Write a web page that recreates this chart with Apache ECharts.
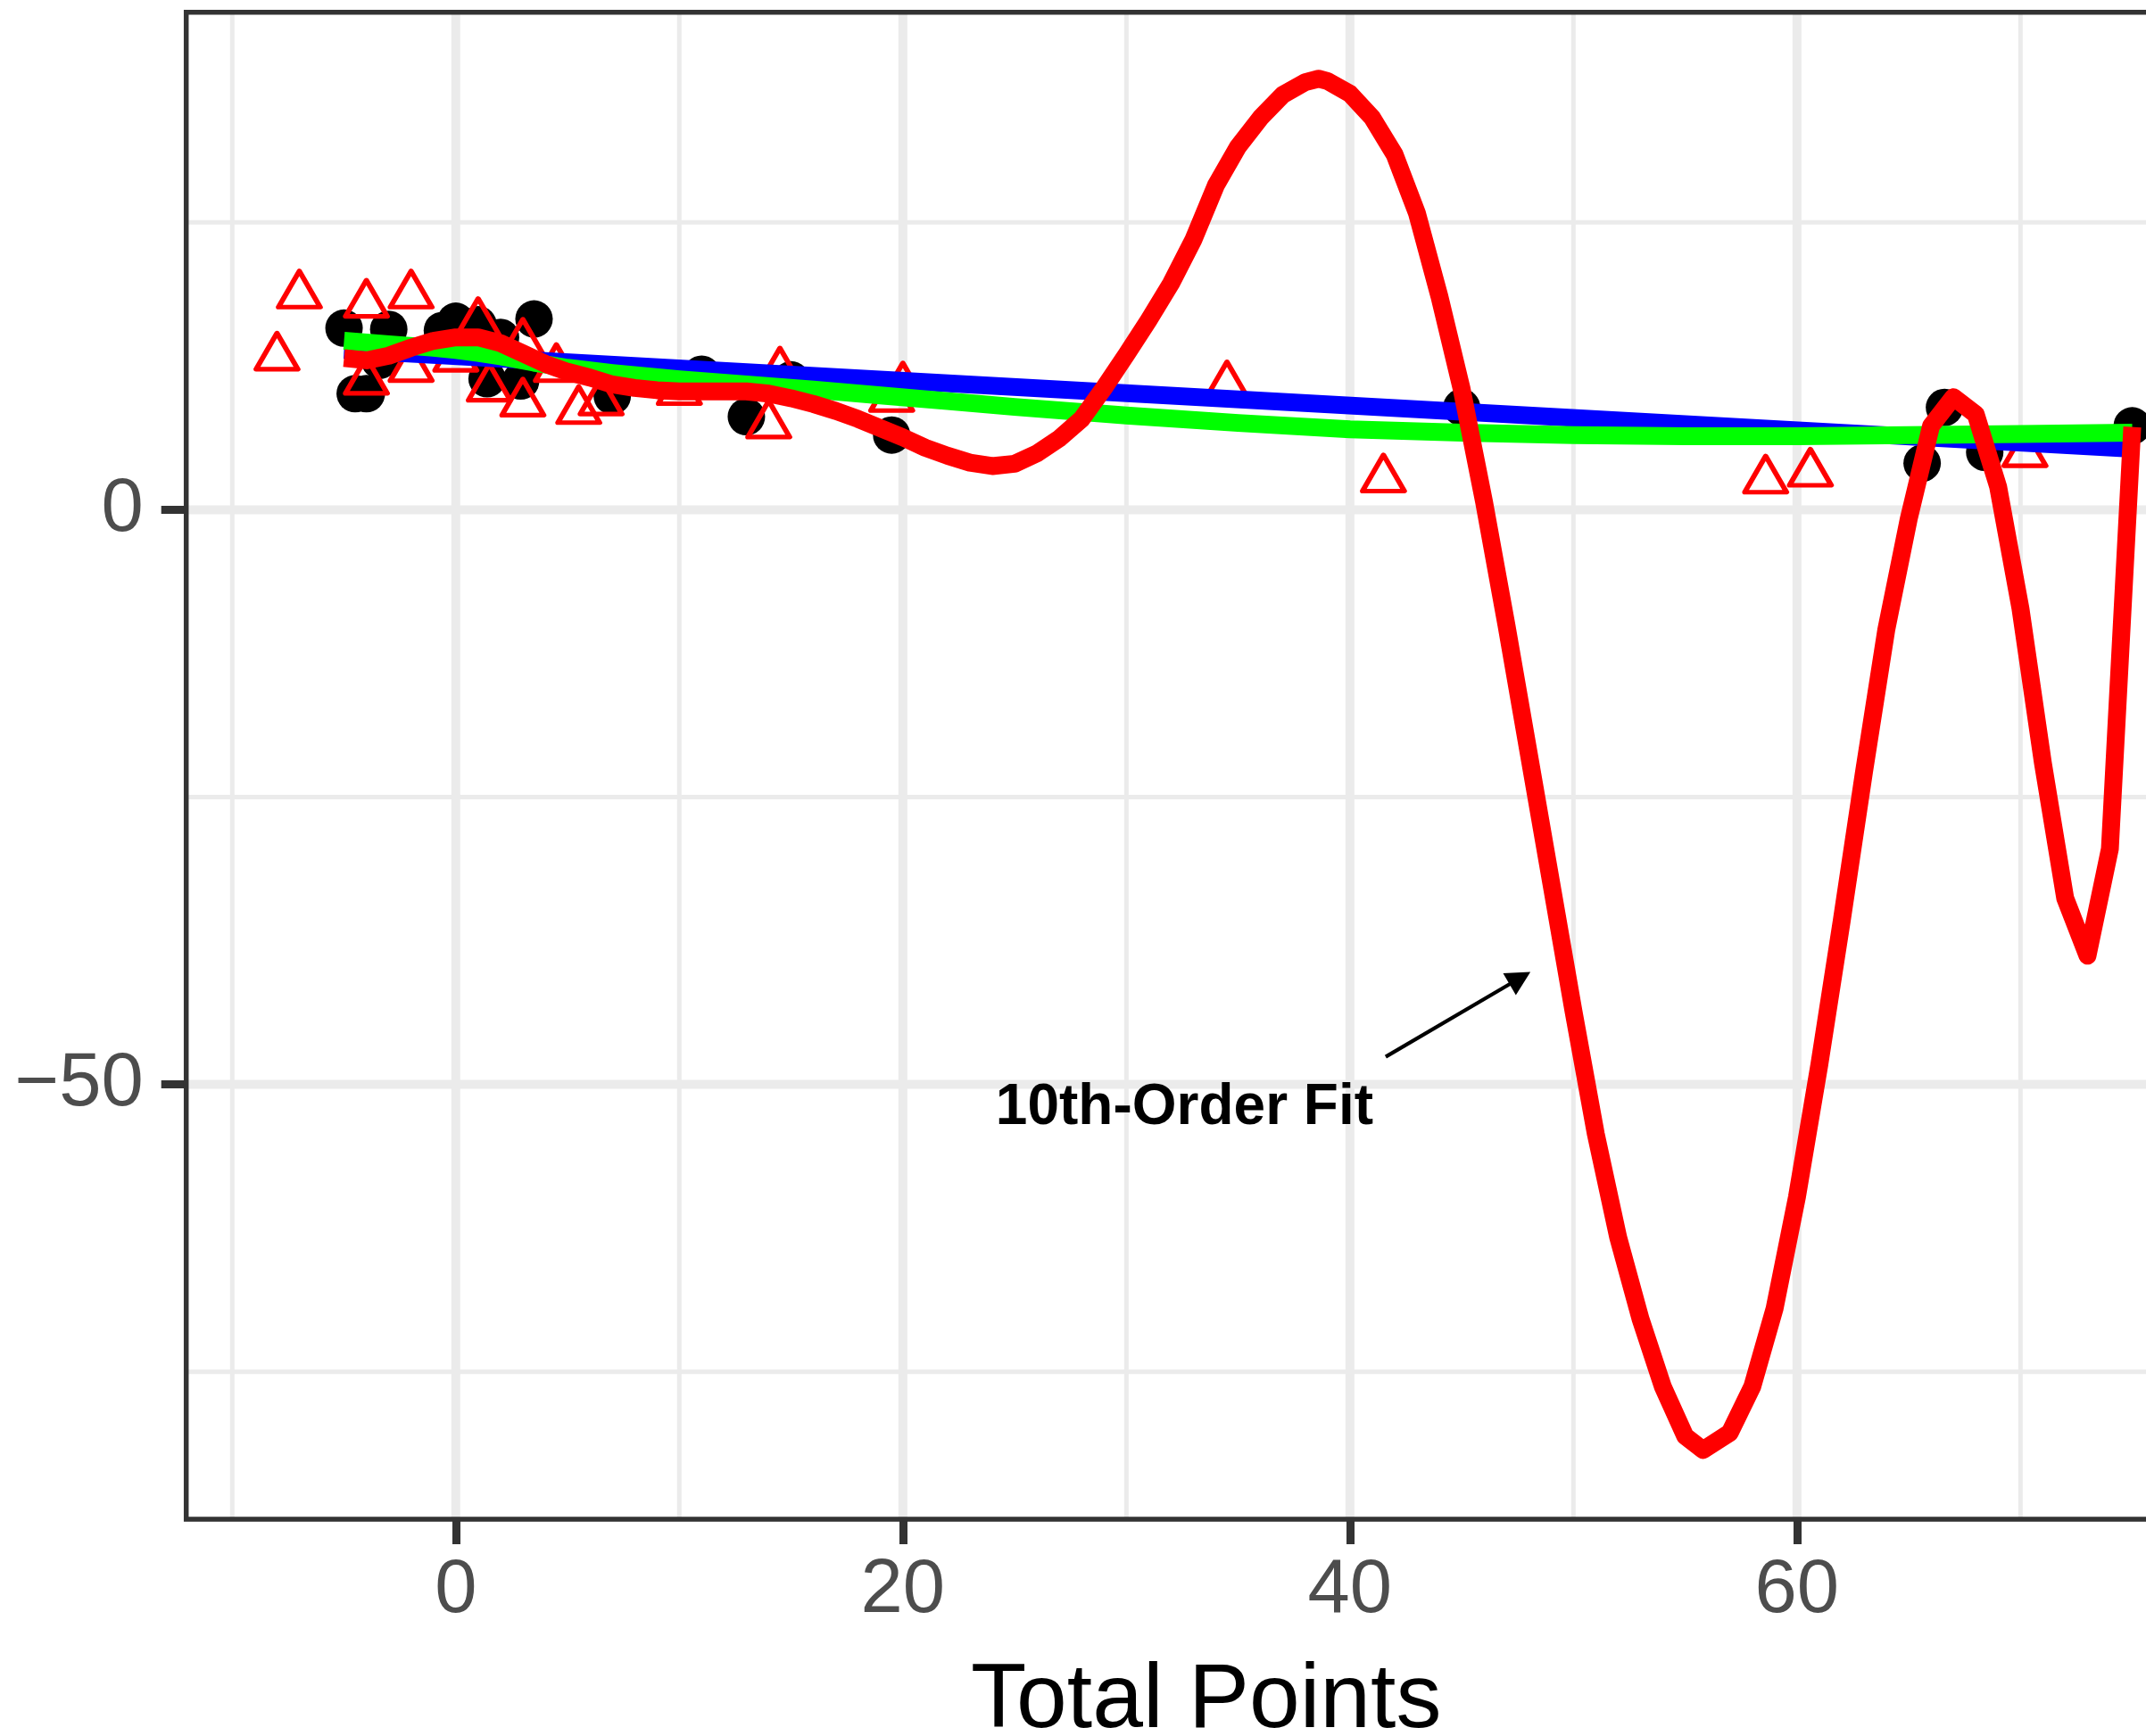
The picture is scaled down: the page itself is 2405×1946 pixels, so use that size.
<!DOCTYPE html>
<html>
<head>
<meta charset="utf-8">
<title>Total Points fits</title>
<script src="https://cdn.jsdelivr.net/npm/echarts@6/dist/echarts.min.js"></script>
<style>
  html, body { margin: 0; padding: 0; background: #ffffff; }
  #chart { width: 2405px; height: 1946px; }
</style>
</head>
<body>
<div id="chart"></div>
<script>
// Observed values: black filled circles
const circlePoints = [
  [-5.0, 15.8], [-3.0, 15.7], [-4.5, 10.1], [-4.0, 10.1], [-3.4, 13.0],
  [-0.6, 15.6], [0.0, 16.4], [1.0, 16.1], [2.0, 15.0], [3.5, 16.6],
  [1.4, 11.4], [2.9, 11.2], [7.0, 9.9], [11.0, 11.8], [13.0, 8.1],
  [15.0, 11.3], [19.5, 6.5], [45.0, 8.9], [65.6, 4.05], [66.6, 8.9],
  [68.4, 5.0], [75.0, 7.3]
];

// Observed values: red open triangles
const trianglePoints = [
  [-8.0, 13.8], [-7.0, 19.2], [-4.0, 18.4], [-2.0, 19.2], [-4.0, 11.7],
  [-2.0, 12.8], [0.0, 13.7], [1.0, 16.8], [3.0, 15.0], [1.5, 11.1],
  [3.0, 9.8], [4.5, 12.8], [5.5, 9.15], [6.5, 9.9], [10.0, 10.8],
  [14.5, 12.5], [14.0, 7.9], [19.5, 10.2], [20.0, 11.2], [34.5, 11.3],
  [41.5, 3.2], [58.6, 3.1], [60.6, 3.7], [70.2, 5.4]
];

// Linear fit (blue)
const linearFit = [[-5.0, 13.9], [75.0, 5.3]];

// Smooth fit (green)
const smoothFit = [
  [-5, 14.7], [-3, 14.4], [-1, 14.1], [0, 13.9], [1, 13.65], [2, 13.35],
  [3.5, 12.8], [5, 12.35], [7, 11.9], [10, 11.35], [13, 10.9], [16, 10.45],
  [19, 9.95], [22, 9.45], [25, 8.95], [30, 8.2], [35, 7.55], [40, 7.0],
  [45, 6.7], [50, 6.5], [55, 6.4], [60, 6.4], [65, 6.5], [70, 6.6], [75, 6.7]
];

// 10th-order polynomial fit (red)
const poly10Fit = [
  [-5, 13.2], [-4, 13.0], [-3, 13.4], [-2, 14.1], [-1, 14.7], [0, 15.0],
  [1, 15.0], [2, 14.5], [3, 13.6], [4, 12.7], [5, 12.0], [6, 11.5],
  [7, 10.9], [8, 10.6], [9, 10.4], [10, 10.3], [11, 10.3], [12, 10.3],
  [13, 10.3], [14, 10.1], [15, 9.7], [16, 9.2], [17, 8.6], [18, 7.9],
  [19, 7.1], [20, 6.3], [21, 5.4], [22, 4.7], [23, 4.1], [24, 3.8],
  [25, 4.0], [26, 4.9], [27, 6.2], [28, 7.9], [29, 10.6], [30, 13.5],
  [31, 16.5], [32, 19.7], [33, 23.5], [34, 28.2], [35, 31.6], [36, 34.1],
  [37, 36.1], [38, 37.2], [38.6, 37.5], [39, 37.3], [40, 36.2], [41, 34.1],
  [42, 30.9], [43, 25.8], [44, 18.6], [45, 10.5], [46, 0.7], [47, -10.0],
  [48, -21.2], [49, -32.4], [50, -43.6], [51, -54.3], [52, -63.3], [53, -70.4],
  [54, -76.3], [55, -80.6], [55.8, -81.8], [57, -80.3], [58, -76.3], [59, -69.5],
  [60, -59.8], [61, -48.3], [62, -35.8], [63, -22.8], [64, -10.4], [65, -0.8],
  [66, 7.3], [67, 9.8], [68, 8.3], [69, 2.0], [70, -8.6], [71, -22.0],
  [72, -33.8], [73, -38.8], [74, -29.5], [75, 7.2]
];

// Annotation: label position and arrow (from x, from y, to x, to y)
const annotationText = '10th-Order Fit';
const annotationPos = [[32.6, -52.1]];
const arrowSegment = [[41.6, -47.6, 48.0, -40.3]];

// Axis ticks and grid lines
const xTicks = [0, 20, 40, 60];
const yTicks = [0, -50];
const xMinorGrid = [-10, 10, 30, 50, 70];
const yMinorGrid = [25, -25, -75];
const xTitle = 'Total Points';

// Panel limits
const X_MIN = -12.06, X_MAX = 79.2;
const Y_MIN = -87.83, Y_MAX = 43.28;

const FONT = "'Liberation Sans', Arial, Helvetica, sans-serif";
const GRID_COLOR = '#EBEBEB';
const FIT_WIDTH = 20;

const chart = echarts.init(document.getElementById('chart'), null, { renderer: 'canvas' });

const vGridData = xMinorGrid.map(v => [v, 0]).concat(xTicks.map(v => [v, 1]));
const hGridData = yMinorGrid.map(v => [0, v, 0]).concat(yTicks.map(v => [0, v, 1]));

const option = {
  animation: false,
  backgroundColor: '#ffffff',
  grid: {
    left: 208.7,
    top: 13.8,
    width: 2286.1,
    height: 1689.2,
    containLabel: false,
    outerBoundsMode: 'none',
    show: true,
    backgroundColor: 'transparent',
    borderColor: '#333333',
    borderWidth: 5.5,
    z: 9
  },
  xAxis: {
    type: 'value',
    min: X_MIN,
    max: X_MAX,
    axisLine: { show: false, onZero: false },
    splitLine: { show: false },
    axisTick: {
      show: true,
      customValues: xTicks,
      length: 28,
      lineStyle: { color: '#333333', width: 9 }
    },
    axisLabel: {
      customValues: xTicks,
      margin: 38,
      fontSize: 85,
      color: '#4D4D4D',
      fontFamily: FONT
    },
    name: xTitle,
    nameLocation: 'middle',
    nameGap: 154,
    nameTextStyle: { fontSize: 102, color: '#000000', fontFamily: FONT }
  },
  yAxis: {
    type: 'value',
    min: Y_MIN,
    max: Y_MAX,
    axisLine: { show: false, onZero: false },
    splitLine: { show: false },
    axisTick: {
      show: true,
      customValues: yTicks,
      length: 28,
      lineStyle: { color: '#333333', width: 9 }
    },
    axisLabel: {
      customValues: yTicks,
      margin: 48,
      fontSize: 85,
      color: '#4D4D4D',
      fontFamily: FONT,
      formatter: v => (v < 0 ? '\u2212' + Math.abs(v) : String(v))
    }
  },
  series: [
    {
      // vertical grid lines
      type: 'custom',
      silent: true,
      z: 1,
      data: vGridData,
      encode: { x: 0 },
      renderItem: (params, api) => {
        const v = api.value(0);
        const major = api.value(1) === 1;
        const a = api.coord([v, Y_MAX]);
        const b = api.coord([v, Y_MIN]);
        return {
          type: 'line',
          shape: { x1: a[0], y1: a[1], x2: b[0], y2: b[1] },
          style: { stroke: GRID_COLOR, lineWidth: major ? 10 : 5 }
        };
      }
    },
    {
      // horizontal grid lines
      type: 'custom',
      silent: true,
      z: 1,
      data: hGridData,
      encode: { y: 1 },
      renderItem: (params, api) => {
        const v = api.value(1);
        const major = api.value(2) === 1;
        const a = api.coord([X_MIN, v]);
        const b = api.coord([X_MAX, v]);
        return {
          type: 'line',
          shape: { x1: a[0], y1: a[1], x2: b[0], y2: b[1] },
          style: { stroke: GRID_COLOR, lineWidth: major ? 10 : 5 }
        };
      }
    },
    {
      name: 'circles',
      type: 'scatter',
      z: 3,
      silent: true,
      data: circlePoints,
      symbol: 'circle',
      symbolSize: 42,
      itemStyle: { color: '#000000', opacity: 1 }
    },
    {
      name: 'triangles',
      type: 'scatter',
      z: 4,
      silent: true,
      data: trianglePoints,
      symbol: 'triangle',
      symbolSize: [46.8, 40.5],
      itemStyle: {
        color: 'rgba(0,0,0,0)',
        borderColor: '#FF0000',
        borderWidth: 5.5,
        borderJoin: 'round',
        opacity: 1
      }
    },
    {
      name: 'linear',
      type: 'line',
      z: 5,
      silent: true,
      data: linearFit,
      symbol: 'none',
      lineStyle: { color: '#0000FF', width: FIT_WIDTH, cap: 'butt', join: 'round' }
    },
    {
      name: 'smooth',
      type: 'line',
      z: 6,
      silent: true,
      data: smoothFit,
      symbol: 'none',
      lineStyle: { color: '#00FF00', width: FIT_WIDTH, cap: 'butt', join: 'round' }
    },
    {
      name: 'poly10',
      type: 'line',
      z: 7,
      silent: true,
      data: poly10Fit,
      symbol: 'none',
      lineStyle: { color: '#FF0000', width: FIT_WIDTH, cap: 'butt', join: 'round' }
    },
    {
      // annotation arrow with a closed head
      type: 'custom',
      z: 8,
      silent: true,
      data: arrowSegment,
      encode: { x: [0, 2], y: [1, 3] },
      renderItem: (params, api) => {
        const p1 = api.coord([api.value(0), api.value(1)]);
        const p2 = api.coord([api.value(2), api.value(3)]);
        const dx = p2[0] - p1[0], dy = p2[1] - p1[1];
        const len = Math.sqrt(dx * dx + dy * dy);
        const ux = dx / len, uy = dy / len;
        const headLen = 24, headHalf = 12.5;
        const bx = p2[0] - ux * headLen, by = p2[1] - uy * headLen;
        return {
          type: 'group',
          children: [
            {
              type: 'line',
              shape: { x1: p1[0], y1: p1[1], x2: bx + ux * 2, y2: by + uy * 2 },
              style: { stroke: '#000000', lineWidth: 4.2 }
            },
            {
              type: 'polygon',
              shape: {
                points: [
                  [p2[0], p2[1]],
                  [bx - uy * headHalf, by + ux * headHalf],
                  [bx + uy * headHalf, by - ux * headHalf]
                ]
              },
              style: { fill: '#000000', stroke: '#000000', lineWidth: 2, lineJoin: 'miter' }
            }
          ]
        };
      }
    },
    {
      // annotation label
      type: 'custom',
      z: 8,
      silent: true,
      data: annotationPos,
      encode: { x: 0, y: 1 },
      renderItem: (params, api) => {
        const p = api.coord([api.value(0), api.value(1)]);
        return {
          type: 'text',
          x: p[0],
          y: p[1],
          style: {
            text: annotationText,
            fontSize: 64,
            fontWeight: 'bold',
            fontFamily: FONT,
            fill: '#000000',
            align: 'center',
            verticalAlign: 'middle'
          }
        };
      }
    }
  ]
};

chart.setOption(option);
</script>
</body>
</html>
